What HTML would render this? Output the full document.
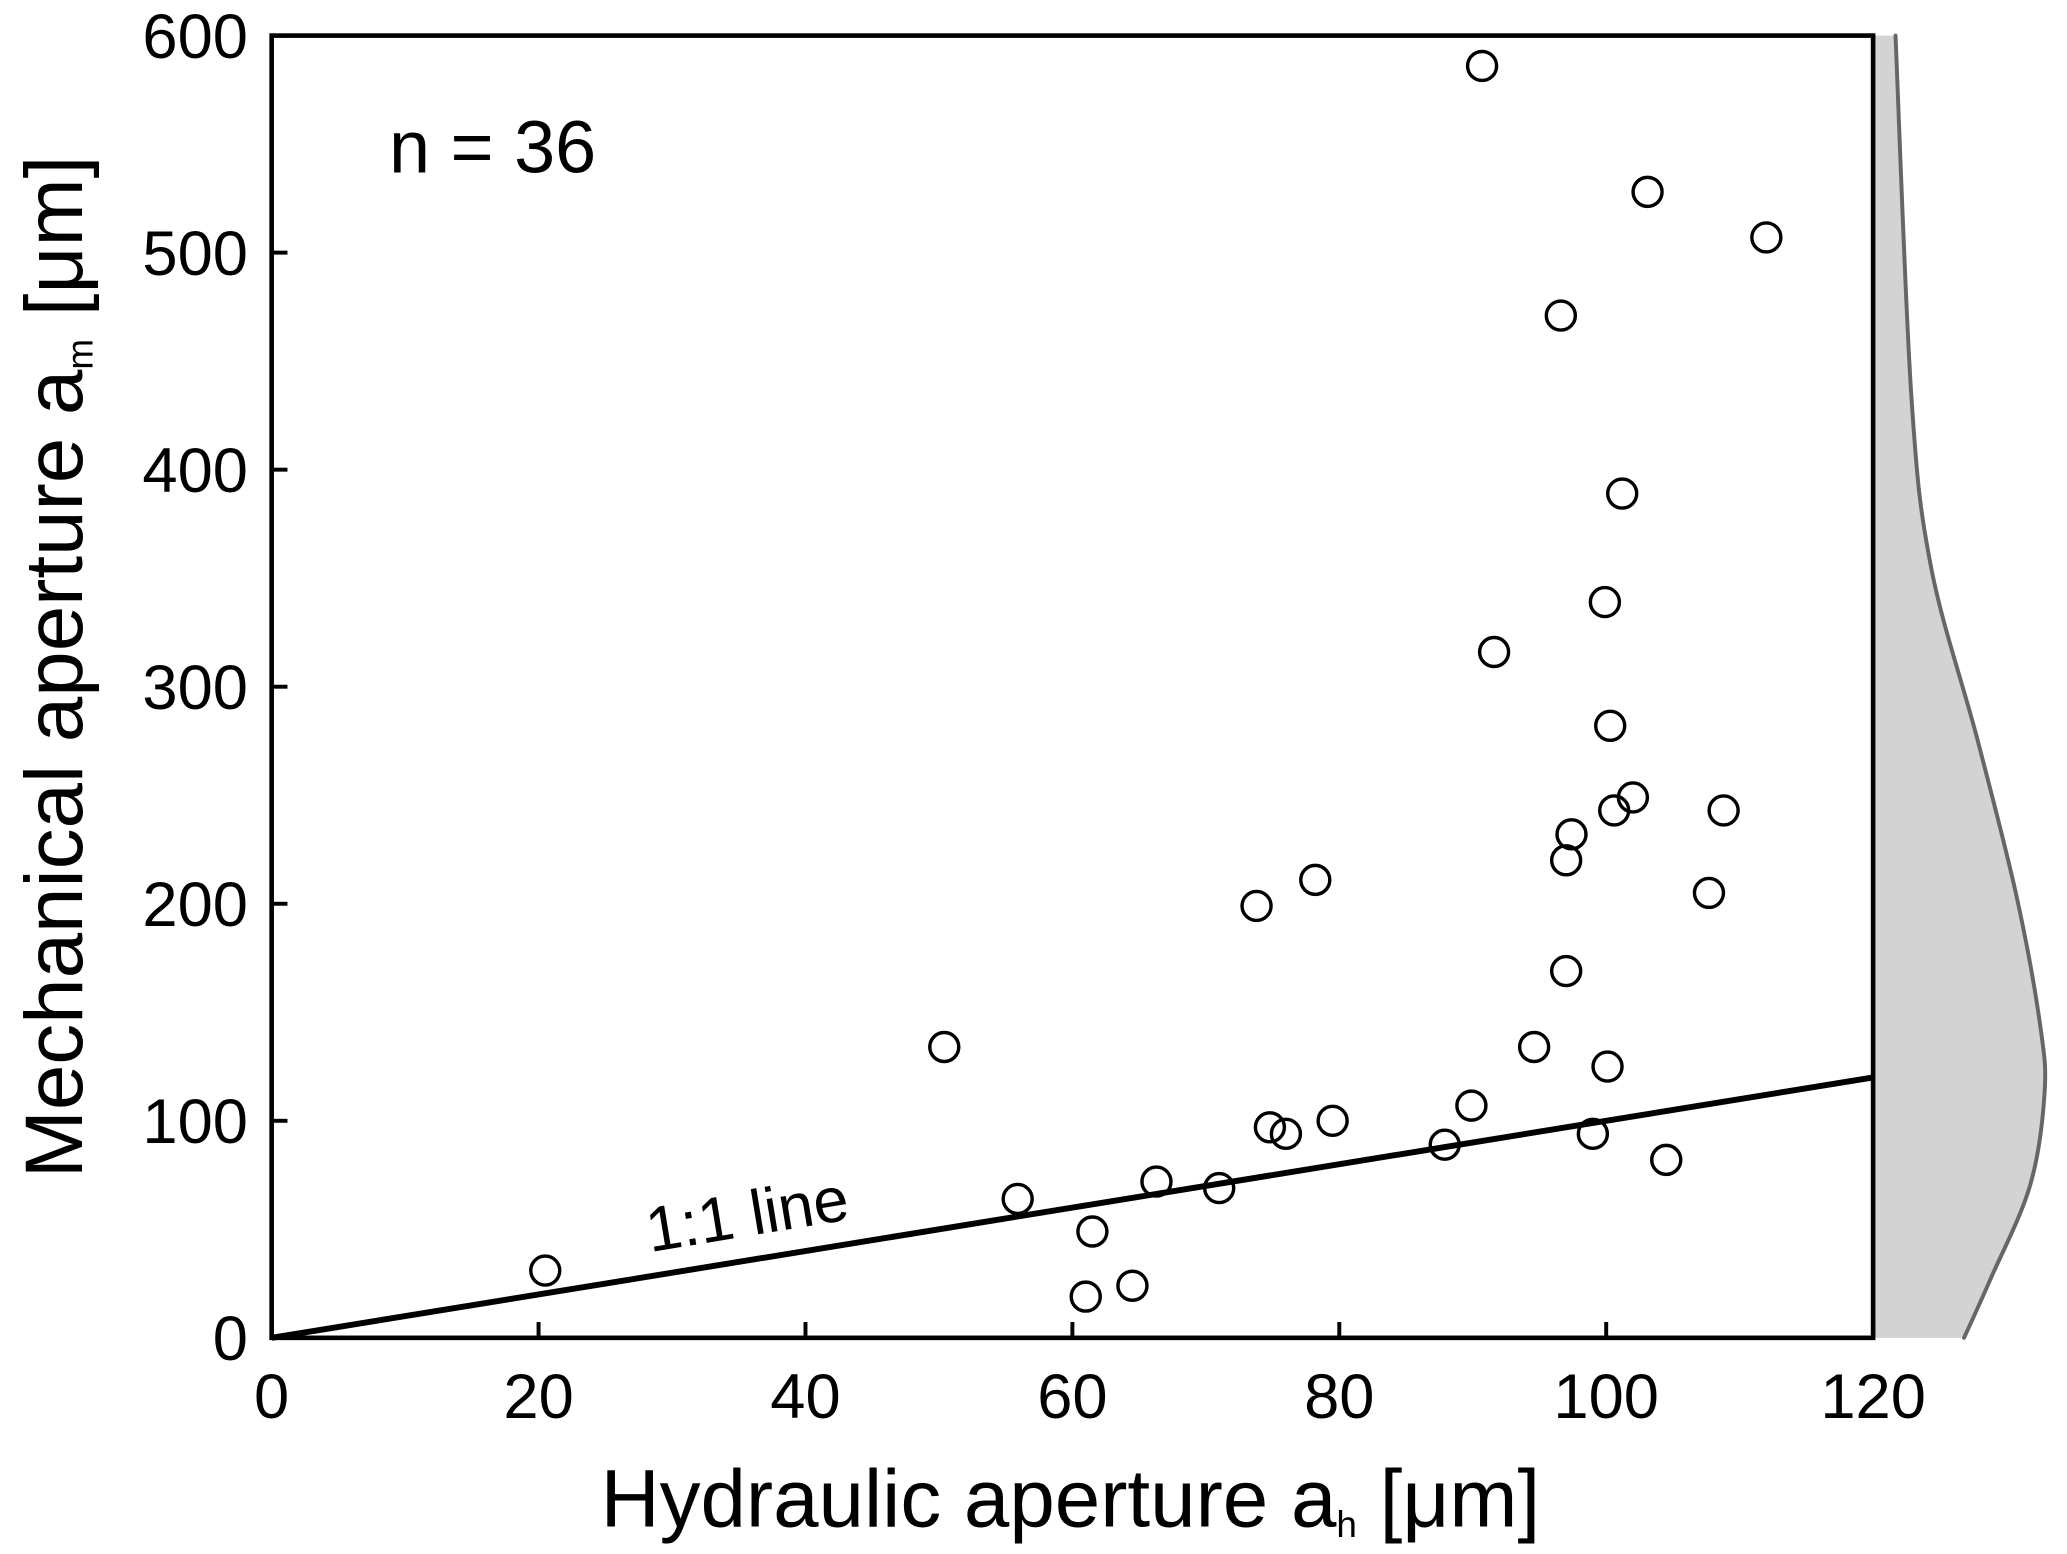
<!DOCTYPE html>
<html><head><meta charset="utf-8"><style>
html,body{margin:0;padding:0;background:#fff;}
svg{display:block;font-family:"Liberation Sans",Arial,sans-serif;}
</style></head><body>
<svg id="chart" width="2067" height="1554" viewBox="0 0 1568 1179" xmlns="http://www.w3.org/2000/svg">
<g id="density"></g>
<g id="ticks"></g>
<g id="pts"></g>
<line id="oneline" stroke="#000" stroke-width="4.5"/>
<rect x="206" y="27" width="1215" height="988" fill="none" stroke="#000" stroke-width="3.5"/>
<text x="295" y="131" font-size="56">n = 36</text>
<text x="0" y="0" font-size="48" transform="translate(493,950) rotate(-9.35)">1:1 line</text>
<text x="812" y="1158" font-size="62" text-anchor="middle">Hydraulic aperture a<tspan font-size="28" dy="8">h</tspan><tspan dy="-8"> [μm]</tspan></text>
<text x="0" y="0" font-size="62" text-anchor="middle" transform="translate(62,506) rotate(-90)">Mechanical aperture a<tspan font-size="28" dy="8">m</tspan><tspan dy="-8"> [μm]</tspan></text>
</svg>
<script>
const xTicks=[0,20,40,60,80,100,120];
const yTicks=[0,100,200,300,400,500,600];
const xVals=[20.5,50.4,55.9,61.5,61.0,64.5,66.3,71.0,73.8,78.2,74.8,76.0,79.5,87.9,89.9,90.7,91.6,94.6,96.6,97.0,97.0,97.4,99.0,99.9,100.1,100.3,100.6,101.2,102.0,103.1,104.5,107.7,108.8,112.0];
const yVals=[31,134,64,49,19,24,72,69,199,211,97,94,100,89,107,586,316,134,471,169,220,232,94,339,125,282,243,389,249,528,82,205,243,507];
const densY=[600,434,355,276,203,143,112,70,27,0];
const densW=[17,29,44,79,109,127,130,119,89,69];
const NS='http://www.w3.org/2000/svg';
const X0=206,X1=1421,Y0=1015,Y1=27;
const sx=v=>X0+(v-0)/120*(X1-X0);
const sy=v=>Y0-(v-0)/600*(Y0-Y1);
const dx=w=>X1+w;
function mk(tag,attrs,parent){const e=document.createElementNS(NS,tag);for(const k in attrs)e.setAttribute(k,attrs[k]);parent.appendChild(e);return e;}
const tk=document.getElementById('ticks');
xTicks.forEach(t=>{
  const l=mk('line',{x1:sx(t),x2:sx(t),y1:Y0,y2:Y0-12,stroke:'#000','stroke-width':3},tk);
  
  
  const tx=mk('text',{x:sx(t),y:Y0+61,'font-size':48,'text-anchor':'middle'},tk);tx.textContent=t;
  
  
});
yTicks.forEach(t=>{
  const l=mk('line',{x1:X0,x2:X0+12,y1:sy(t),y2:sy(t),stroke:'#000','stroke-width':3},tk);
  
  
  const tx=mk('text',{x:X0-18,y:sy(t)+17,'font-size':48,'text-anchor':'end'},tk);tx.textContent=t;
  
  
});
const pg=document.getElementById('pts');
xVals.forEach((v,i)=>{
  const c=mk('circle',{cx:sx(v),cy:sy(yVals[i]),r:11,fill:'none',stroke:'#000','stroke-width':2.6},pg);
  
  
});
const ol=document.getElementById('oneline');
ol.setAttribute('x1',sx(0));ol.setAttribute('y1',sy(0));ol.setAttribute('x2',sx(120));ol.setAttribute('y2',sy(120));
const dg=document.getElementById('density');
const P=densY.map((y,i)=>[dx(densW[i]),sy(y)]);
let d='M'+P[0][0]+','+P[0][1];
for(let i=0;i<P.length-1;i++){
  const p0=P[Math.max(0,i-1)],p1=P[i],p2=P[i+1],p3=P[Math.min(P.length-1,i+2)];
  const c1=[p1[0]+(p2[0]-p0[0])/6,p1[1]+(p2[1]-p0[1])/6];
  const c2=[p2[0]-(p3[0]-p1[0])/6,p2[1]-(p3[1]-p1[1])/6];
  d+=' C'+c1[0]+','+c1[1]+' '+c2[0]+','+c2[1]+' '+p2[0]+','+p2[1];
}
const fill=mk('path',{d:d+' L'+X1+','+sy(0)+' L'+X1+','+sy(600)+' Z',fill:'#d3d3d3',stroke:'none'},dg);


const line=mk('path',{d:d,fill:'none',stroke:'#666','stroke-width':3,'stroke-linecap':'round'},dg);


</script>
</body></html>
